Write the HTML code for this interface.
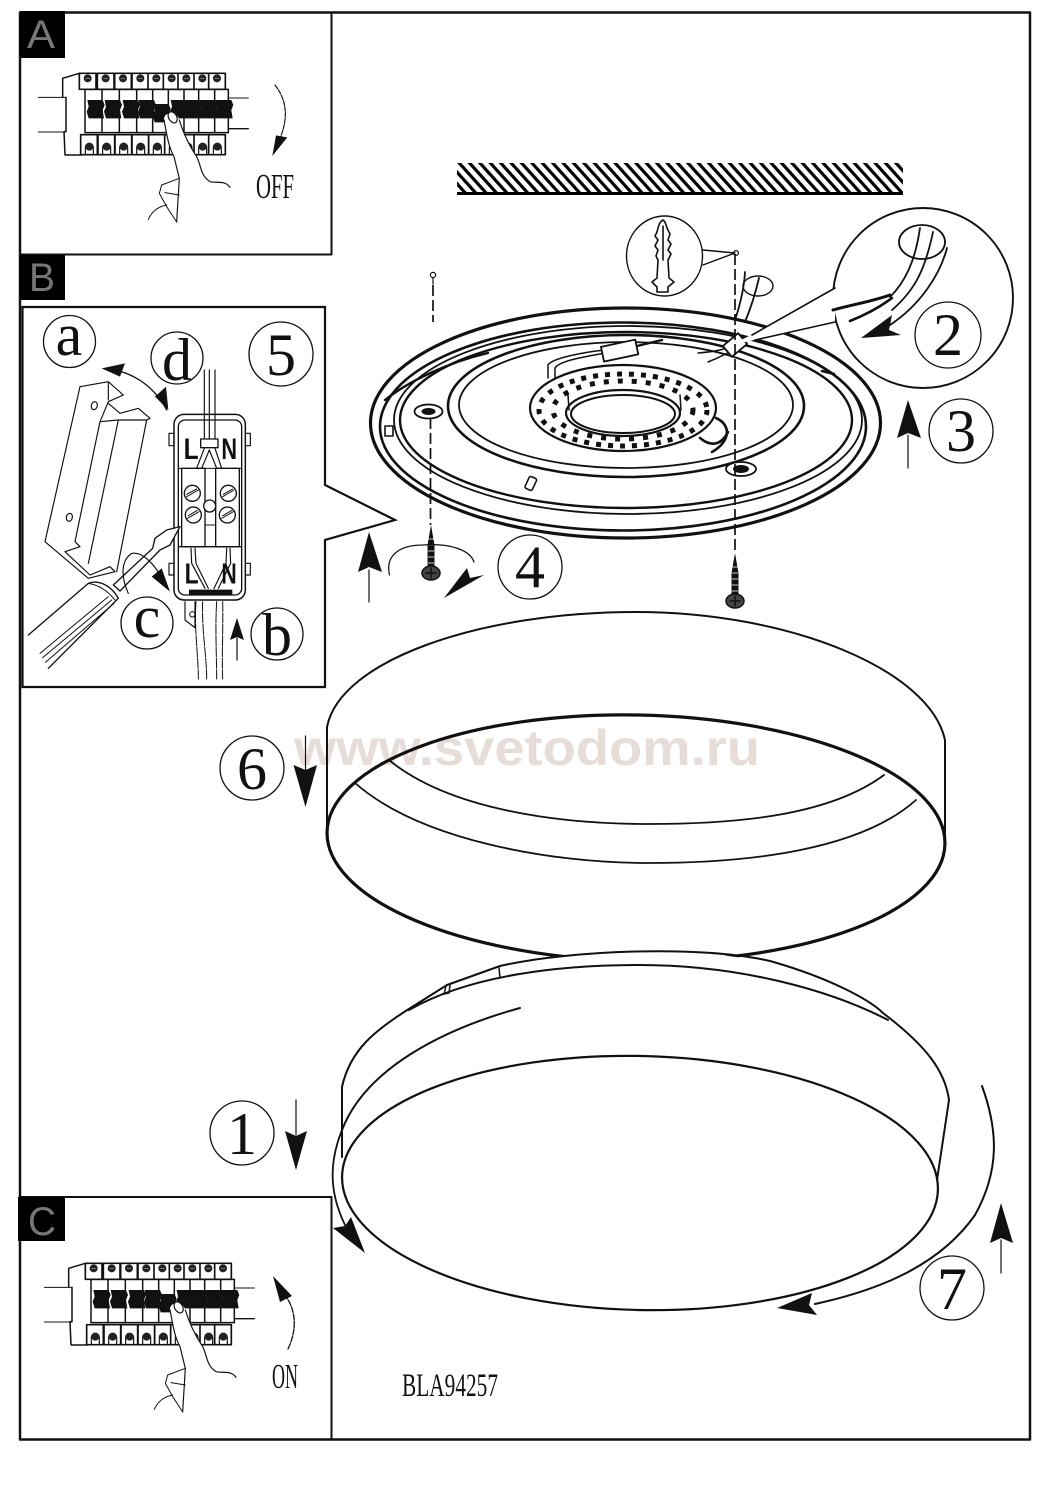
<!DOCTYPE html>
<html><head><meta charset="utf-8"><title>BLA94257</title>
<style>html,body{margin:0;padding:0;background:#fff}svg{display:block}
.s{font-family:"Liberation Serif",serif;fill:#111}
.n{font-size:60px;text-anchor:middle}
.l{font-family:"Liberation Sans",sans-serif;fill:#777;stroke:none;font-size:40px}
</style></head><body>
<svg xmlns="http://www.w3.org/2000/svg" width="1060" height="1500" viewBox="0 0 1060 1500" fill="none" stroke="#111" stroke-linecap="round" stroke-linejoin="round">
<defs>
<pattern id="h" patternUnits="userSpaceOnUse" width="10.4" height="40" patternTransform="translate(457 163) skewX(42)"><rect width="4.3" height="40" fill="#000" stroke="none"/></pattern>
<g id="tt"><rect x="0" y="190" width="50" height="48" fill="#fff" stroke-width="5"/><circle cx="25" cy="205" r="12" fill="#222" stroke="none"/><path d="M19 205h12" stroke="#aaa" stroke-width="2"/></g>
<g id="bt"><rect x="0" y="374" width="50" height="60" fill="#fff" stroke-width="5"/><path d="M14 434v-22a12 12 0 0 1 24 0v22" stroke-width="3.5"/><circle cx="26" cy="410" r="12" fill="#222" stroke="none"/></g>
<polygon id="bk" points="-2,270 44,270 50,285 44,300 48,325 2,325 -4,305 2,290" fill="#111" stroke="none"/>
<g id="scr"><path d="M0 0L3.5 20V46H-3.5V20Z" fill="#111" stroke="none"/><path d="M-3 14H3M-3 20H3M-3 26H3M-3 32H3M-3 38H3" stroke="#fff" stroke-width=".7"/><ellipse cx="0" cy="48" rx="9" ry="7" fill="#444" stroke="#111" stroke-width="1.5"/><path d="M-5 48H5M0 43V53" stroke="#111" stroke-width="1.5"/></g>
<g id="brk">
<path d="M55 262H138M55 366H138M628 264H685" stroke-width="3"/>
<path d="M628 356H685" stroke-width="4"/>
<path d="M128 262V205L178 190M138 262V365H132L135 435H185" stroke-width="4.5"/>
<rect x="195" y="238" width="430" height="130" fill="#fff" stroke-width="4.5"/>
<path d="M246 238V368M298 238V368M350 238V368M398 238V368M445 238V368M492 238V368M536 238V368M584 238V368" stroke-width="4.5"/>
<use href="#tt" x="178"/><use href="#tt" x="232"/><use href="#tt" x="284"/><use href="#tt" x="336"/><use href="#tt" x="384"/><use href="#tt" x="430"/><use href="#tt" x="474"/><use href="#tt" x="522"/><use href="#tt" x="566"/>
<use href="#bt" x="182"/><use href="#bt" x="234"/><use href="#bt" x="285"/><use href="#bt" x="336"/><use href="#bt" x="386"/><use href="#bt" x="434"/><use href="#bt" x="478"/><use href="#bt" x="522"/><use href="#bt" x="566"/>
<use href="#bk" x="204"/><use href="#bk" x="256"/><use href="#bk" x="310"/><use href="#bk" x="358"/><use href="#bk" x="402" y="12"/><use href="#bk" x="454"/><use href="#bk" x="498"/><use href="#bk" x="544"/><use href="#bk" x="590"/>
<path d="M432 330C440 370 445 410 462 440L478 505L470 636L440 590L418 550L425 525L478 505L620 560L640 540L570 515C545 500 545 480 530 440C510 410 490 370 478 330C470 300 430 305 432 330Z" fill="#fff" stroke="none"/>
<path d="M432 330C440 370 445 410 462 440L478 505L470 636" stroke-width="3.5"/>
<path d="M478 330C490 370 510 410 530 440C545 470 540 495 570 515C590 520 615 510 630 532" stroke-width="3.5"/>
<path d="M478 505L425 525L418 550L440 590L470 636M385 628C395 605 415 590 440 585M435 548L478 555" stroke-width="3"/>
<ellipse cx="458" cy="322" rx="12" ry="18" transform="rotate(-30 458 322)" fill="#fff" stroke-width="3.5"/>
</g>
</defs>

<!-- outer frame -->
<rect x="20" y="12.5" width="1010" height="1427" stroke-width="2.5" stroke-linecap="butt"/>

<!-- ceiling -->
<rect x="457" y="163" width="446" height="29" fill="url(#h)" stroke="none"/>
<rect x="457" y="192" width="446" height="3" fill="#000" stroke="none"/>

<!-- watermark -->
<text x="294" y="765" font-family="Liberation Sans,sans-serif" font-weight="700" font-size="50" textLength="466" lengthAdjust="spacingAndGlyphs" fill="#e6dcd8" stroke="none">www.svetodom.ru</text>

<!-- panel A -->
<path d="M331.5 12.5V254.5H20" stroke-width="2"/>
<rect x="20" y="11" width="45" height="47" fill="#000" stroke="none"/>
<text class="l" x="27" y="48" textLength="28" lengthAdjust="spacingAndGlyphs">A</text>
<g transform="translate(20 10) scale(.33333)"><use href="#brk"/>
<path d="M765 225C800 270 805 320 782 380" stroke-width="3.5" stroke-dasharray="14 4"/>
<polygon points="757,438 768,376 802,382" fill="#111" stroke="none"/></g>
<text class="s" x="256" y="198" font-size="35" textLength="38" lengthAdjust="spacingAndGlyphs" stroke="none">OFF</text>

<!-- main disk -->
<path d="M759 278C755 295 750 310 745 322" stroke-width="1.8"/><path d="M745 272C744 290 740 305 735 320" stroke-width="1.8"/>
<ellipse cx="758" cy="286" rx="15" ry="10" stroke-width="1.4"/>
<ellipse cx="625.5" cy="423" rx="255" ry="115" stroke-width="3.2" fill="#fff"/>
<ellipse cx="623" cy="426.5" rx="243" ry="104" stroke-width="2.6"/>
<ellipse cx="626" cy="420" rx="226" ry="88" stroke-width="2.4"/>
<ellipse cx="628" cy="420" rx="234" ry="94" stroke-width="1.8"/>
<ellipse cx="626" cy="406" rx="178" ry="71" stroke-width="2.6"/>
<ellipse cx="626" cy="405" rx="167" ry="63" stroke-width="1.8"/>
<path d="M385 400C410 380 450 362 488 353" stroke-width="2.4"/>
<ellipse cx="623" cy="408" rx="93" ry="43" stroke-width="2.2" fill="#fff"/>
<ellipse cx="623" cy="410" rx="84" ry="36" stroke-width="5" stroke-dasharray="5 7" stroke-linecap="butt"/>
<ellipse cx="623" cy="410" rx="70" ry="29" stroke-width="5" stroke-dasharray="5 9" stroke-linecap="butt"/>
<ellipse cx="623" cy="413" rx="57" ry="23" stroke-width="2.2" fill="#fff"/>
<ellipse cx="623" cy="414" rx="52" ry="19" stroke-width="2"/>
<path d="M568 395L569 410M680 395L681 410" stroke-width="1.5"/>
<path d="M548 378V365C552 358 585 352 605 350M555 378V368C560 360 590 356 605 353" stroke-width="1.5"/>
<rect x="602" y="343" width="35" height="15" transform="rotate(-12 620 350)" fill="#fff" stroke-width="1.8"/>
<path d="M637 346L662 340" stroke-width="2.4"/>
<path d="M712 452C730 442 732 425 716 418M700 438C712 448 722 444 728 432" stroke-width="2.6"/>
<ellipse cx="428.5" cy="411.5" rx="14" ry="7" stroke-width="1.8" fill="#fff"/><ellipse cx="428.5" cy="411.5" rx="7" ry="3.5" fill="#111" stroke="none"/>
<ellipse cx="741" cy="469" rx="15" ry="7" stroke-width="1.8" fill="#fff"/><ellipse cx="741" cy="469" rx="8" ry="4" fill="#111" stroke="none"/>
<rect x="385" y="426" width="8" height="10" stroke-width="1.6" fill="#fff"/>
<rect x="527" y="477" width="8" height="13" rx="2" transform="rotate(25 531 483)" stroke-width="1.6" fill="#fff"/>
<path d="M822 371l12 3" stroke-width="2.5"/>
<path d="M698 353C712 352 722 350 730 347M708 362C718 358 730 352 738 347" stroke-width="1.5"/>
<rect x="728" y="335" width="14" height="20" transform="rotate(50 735 345)" fill="#fff" stroke-width="1.8"/>

<!-- dashes -->
<path d="M433 285V322M430.5 418V525M735 254V553" stroke-width="1.7" stroke-dasharray="11 4" stroke-linecap="butt"/>
<circle cx="433" cy="275" r="2.6" stroke-width="1.2"/><path d="M433 278v6" stroke-width="1.2"/>
<circle cx="736" cy="253" r="2.4" stroke-width="1.2"/>
<!-- screws -->
<use href="#scr" x="431" y="525"/>
<use href="#scr" x="735" y="553"/>

<!-- anchor callout -->
<ellipse cx="664.5" cy="256" rx="38" ry="40" stroke-width="1.4"/>
<path d="M703 250L735 253L703 265" stroke-width="1.4"/>
<path d="M663 220C659 222 658 228 657 232L655 236L658 240L655 246L658 250L656 256L658 260L657 278L652 282L657 287V292H668V287L674 282L669 278L668 260L671 254L668 250L671 244L668 240L670 234L667 228C666 224 665 221 663 220ZM663 226V260" stroke-width="1.6" fill="#fff"/>

<!-- cable callout -->
<circle cx="923" cy="298" r="90" stroke-width="1.9" fill="#fff"/>
<path d="M835 288L751 335L735 343L745 342L835 322" fill="#fff" stroke="none"/>
<path d="M835 288L752 335M835 322L755 340" stroke-width="1.6"/>
<ellipse cx="922" cy="242" rx="23" ry="17" stroke-width="1.8"/>
<path d="M920 228C915 262 905 282 890 297M933 232C925 270 915 290 892 310" stroke-width="1.8"/>
<path d="M833 310C850 305 870 302 890 295" stroke-width="3"/>
<path d="M850 321C865 315 880 307 892 298" stroke-width="2.6"/>
<path d="M947 248C940 275 920 305 890 325" stroke-width="1.8"/>
<polygon points="861,338 892,315 889,330 901,335" fill="#111" stroke="none"/>

<!-- shade -->
<path d="M327 830V727C340 660 480 612 636 612C790 612 930 670 945 740V843" stroke-width="2"/>
<ellipse cx="636" cy="838" rx="309" ry="123" transform="rotate(1.1 636 838)" stroke-width="3.2"/>
<path d="M389 760C450 810 560 824 648 824C740 824 830 815 884 775M355 783C420 840 550 863 648 863C750 863 860 850 916 800" stroke-width="1.8"/>

<!-- fixture -->
<path d="M342 1157V1087C350 1050 375 1030 412 1007L447 985L500 966C560 950 700 945 780 965C830 985 870 1000 883 1013C925 1045 945 1070 949 1100L937 1180C900 1280 760 1310 640 1310C500 1310 360 1260 342 1157Z" fill="#fff" stroke="none"/>
<path d="M342 1157V1087C350 1050 375 1030 412 1007L447 985L500 966C570 950 700 945 770 961C830 978 870 1000 883 1013C925 1045 945 1070 949 1100L937 1180" stroke-width="2"/>
<path d="M409 1010C470 975 560 965 639 965C740 965 830 990 888 1020" stroke-width="2"/>
<ellipse cx="640" cy="1183" rx="298" ry="127" transform="rotate(1.3 640 1183)" stroke-width="2.2"/>
<path d="M342 1130C365 1070 440 1030 520 1008" stroke-width="2"/>
<path d="M446 986l-2 8 5 -1 1 -8M499 968l1 10" stroke-width="1.5"/>
<path d="M342 1130C330 1160 328 1190 345 1225" stroke-width="1.8"/>
<polygon points="365,1253 333,1228 345,1226 351,1217" fill="#111" stroke="none"/>
<path d="M982 1086C998 1130 1000 1170 975 1215C940 1265 880 1290 815 1304" stroke-width="2"/>
<polygon points="777,1308 812,1293 809,1305 817,1315" fill="#111" stroke="none"/>

<!-- panel B -->
<rect x="20" y="255" width="45" height="45" fill="#000" stroke="none"/>
<text class="l" x="29" y="291" font-size="40" textLength="26" lengthAdjust="spacingAndGlyphs">B</text>
<path d="M325 485V307H22.5V687H325V540L395 520Z" fill="#fff" stroke-width="2.2" stroke-linejoin="miter"/>
<g transform="translate(20 255) scale(.33333)" stroke-width="3.5">
<path d="M180 395L75 860L205 970L285 950L270 935L210 960L135 890L180 875L165 860L240 500L265 440L310 420L265 380L180 395M265 445L300 475L355 460L390 490L380 495L295 495L240 500M295 495L205 925M380 495L290 950M265 380V435"/>
<ellipse cx="223" cy="452" rx="9" ry="12" transform="rotate(15 223 452)"/><ellipse cx="148" cy="787" rx="9" ry="12" transform="rotate(15 148 787)"/>
<path d="M255 342C330 345 400 390 440 465" stroke-width="4"/>
<polygon points="245,340 315,325 300,365" fill="#111" stroke="none"/><polygon points="445,465 438,395 405,425" fill="#111" stroke="none"/>
<rect x="447" y="535" width="15" height="37" stroke-width="3.5"/><rect x="447" y="925" width="15" height="35"/><rect x="676" y="535" width="15" height="37"/><rect x="676" y="925" width="15" height="35"/>
<rect x="462" y="478" width="214" height="557" rx="30" fill="#fff" stroke-width="4.5"/>
<rect x="475" y="495" width="190" height="525" rx="20" stroke-width="4"/>
<path d="M553 345V552M568 345V552M585 345V552" stroke-width="3.5"/>
<rect x="542" y="552" width="52" height="26" fill="#fff" stroke-width="4"/>
<path d="M553 580L530 640M568 585L545 640M568 585L590 640M585 580L605 640" stroke-width="3.5"/>
<path d="M475 875H665" stroke-width="4"/>
<path d="M475 640H665" stroke-width="3"/>
<path d="M485 640H555V875H485ZM587 640H658V875H587Z" fill="#fff" stroke-width="4"/>
<path d="M555 810L585 810" stroke-width="3"/>
<g stroke-width="4" fill="#fff"><circle cx="517" cy="715" r="24"/><circle cx="625" cy="715" r="24"/><circle cx="520" cy="780" r="24"/><circle cx="622" cy="780" r="24"/><circle cx="569" cy="753" r="18"/></g>
<path d="M500 725L535 705M608 725L642 705M503 790L537 770M605 790L640 770M500 718L530 702M610 718L638 702M505 782L532 766M608 782L636 766" stroke-width="3"/>
<path d="M513 880L515 925L555 1000M525 880L528 925L565 1000M620 880L618 925L582 1000M630 880L632 925L595 1000" stroke-width="3.5"/>
<rect x="508" y="1005" width="128" height="15" fill="#111" stroke-width="2"/>
<path d="M495 1040V1095L525 1118V1040" stroke-width="3.5"/><circle cx="517" cy="1078" r="8" stroke-width="3"/>
<path d="M528 1040C522 1120 535 1200 535 1272M548 1040C545 1130 560 1200 560 1272M590 1040C585 1120 590 1200 590 1272M608 1040C610 1120 605 1200 608 1272" stroke-width="3" stroke-dasharray="30 4"/>
<text x="491" y="612" font-family="Liberation Sans,sans-serif" font-weight="700" font-size="90" fill="#111" stroke="none" textLength="45" lengthAdjust="spacingAndGlyphs">L</text>
<text x="604" y="612" font-family="Liberation Sans,sans-serif" font-weight="700" font-size="90" fill="#111" stroke="none" textLength="47" lengthAdjust="spacingAndGlyphs">N</text>
<text x="494" y="985" font-family="Liberation Sans,sans-serif" font-weight="700" font-size="85" fill="#111" stroke="none" textLength="42" lengthAdjust="spacingAndGlyphs">L</text>
<text x="604" y="985" font-family="Liberation Sans,sans-serif" font-weight="700" font-size="85" fill="#111" stroke="none" textLength="46" lengthAdjust="spacingAndGlyphs">N</text>
<path d="M480 815L440 825L405 850L398 880L280 990L300 1008L420 885L450 870Z" fill="#fff" stroke-width="4"/>
<path d="M25 1140L205 985C230 975 270 985 295 1030L85 1240" fill="#fff" stroke-width="4"/>
<path d="M60 1195L265 1025M68 1208L275 1035M76 1222L282 1045M205 985C240 990 265 1010 285 1035" stroke-width="3"/>
<path d="M325 1015C300 960 305 915 335 895C370 890 410 930 440 1000" stroke-width="3.5"/>
<polygon points="450,1010 425,940 395,965" fill="#111" stroke="none"/>
</g>

<!-- panel C -->
<path d="M20 1197H331.5V1439" stroke-width="2"/>
<rect x="18" y="1197" width="47" height="44" fill="#000" stroke="none"/>
<text class="l" x="28" y="1235" font-size="40" textLength="28" lengthAdjust="spacingAndGlyphs">C</text>
<g transform="translate(26 1200) scale(.33333)"><use href="#brk"/></g>
<path d="M288 1349C297 1330 296 1312 287 1298" stroke-width="1.3" stroke-dasharray="6 1.5"/>
<polygon points="273,1276 292,1296 280,1302" fill="#111" stroke="none"/>
<text class="s" x="272" y="1388" font-size="35" textLength="26" lengthAdjust="spacingAndGlyphs" stroke="none">ON</text>
<text class="s" x="402" y="1396" font-size="33" textLength="96" lengthAdjust="spacingAndGlyphs" stroke="none">BLA94257</text>

<!-- arrows -->
<g stroke-width="1.2">
<path d="M296 1100V1135M1001 1240V1273M305.5 736V770M908 435V468M369 570V602M237 638V660"/>
<path d="M389.5 575C385 555 400 545 423 545C450 543 470 550 474 562"/>
</g>
<g fill="#111" stroke="none">
<polygon points="296,1170 285,1131 296,1136 307,1131"/>
<polygon points="1001,1203 990,1243 1001,1238 1013,1243"/>
<polygon points="305.5,807 293.5,765 305.5,770 317,765"/>
<polygon points="908,400 897,438 908,433 921,438"/>
<polygon points="369,532 358,572 369,567 382,572"/>
<polygon points="237,618 230,640 237,637 244,640"/>
<polygon points="444,598 467,568 470,578 484,575"/>
</g>

<!-- number circles -->
<g stroke-width="1.3" fill="#fff">
<circle cx="69.5" cy="341.5" r="26"/><circle cx="177" cy="358" r="26"/><circle cx="281" cy="354" r="32"/><circle cx="147" cy="623" r="26"/><circle cx="277" cy="634" r="26"/>
<circle cx="948" cy="335" r="33"/><circle cx="961" cy="431" r="32"/><circle cx="530" cy="567" r="32"/><circle cx="252" cy="768" r="32"/><circle cx="242" cy="1133" r="32"/><circle cx="952" cy="1288" r="32"/>
</g>
<g stroke="none">
<text class="s n" x="69" y="355">a</text><text class="s n" x="177" y="380">d</text><text class="s n" x="281" y="375">5</text><text class="s n" x="147" y="637">c</text><text class="s n" x="277" y="655">b</text>
<text class="s n" x="948" y="355">2</text><text class="s n" x="961" y="451">3</text><text class="s n" x="530" y="587">4</text><text class="s n" x="252" y="789">6</text><text class="s n" x="242" y="1154">1</text><text class="s n" x="952" y="1309">7</text>
</g>
</svg>
</body></html>
